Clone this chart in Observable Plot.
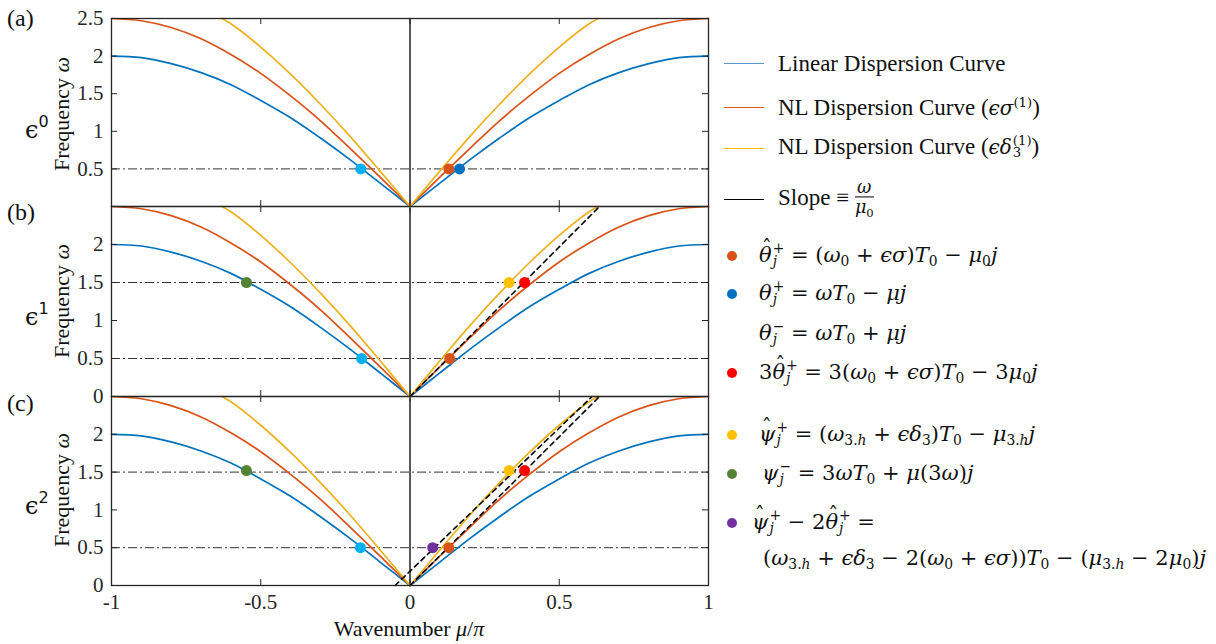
<!DOCTYPE html>
<html><head><meta charset="utf-8">
<script src="https://cdn.jsdelivr.net/npm/d3@7"></script>
<script src="https://cdn.jsdelivr.net/npm/@observablehq/plot@0.6"></script>
<style>
body{margin:0;background:#fff;}
#root{position:relative;width:1216px;height:644px;overflow:hidden;background:#fff;font-family:"Liberation Serif","Times New Roman","DejaVu Serif",serif;color:#111;}
.abs{position:absolute;white-space:nowrap;line-height:1;}
.panel{position:absolute;left:0;}
.ss{display:inline-flex;flex-direction:column;vertical-align:middle;font-size:0.66em;line-height:0.95;margin-left:1px;position:relative;top:-0.08em;}
.sb{font-size:0.66em;vertical-align:-0.3em;}
.sp{font-size:0.66em;vertical-align:0.55em;}
.frac{display:inline-flex;flex-direction:column;align-items:center;vertical-align:middle;font-size:0.8em;line-height:1.05;}
.frac .den{border-top:1.5px solid #000;padding-top:1px;}
.hat{position:relative;display:inline-block;}
.hat .hm{position:absolute;left:0.14em;top:-0.28em;font-style:normal;font-size:0.95em;}
.math{font-family:"DejaVu Serif",serif;font-size:21px;}
.math i{font-style:italic;}
</style></head><body><div id="root"></div><script>
// ---------- data ----------
const muLeft  = [-1,-0.9,-0.8,-0.7,-0.6,-0.5,-0.4,-0.3,-0.2,-0.1,0];
const muRight = [0,0.1,0.2,0.3,0.4,0.5,0.6,0.7,0.8,0.9,1];
const linearLeft  = [2.0,1.98,1.90,1.78,1.62,1.41,1.18,0.91,0.62,0.31,0];
const linearRight = [0,0.31,0.62,0.91,1.18,1.41,1.62,1.78,1.90,1.98,2.0];
const sigmaLeft  = [2.5,2.47,2.38,2.23,2.02,1.77,1.47,1.14,0.77,0.39,0];
const sigmaRight = [0,0.39,0.77,1.14,1.47,1.77,2.02,2.23,2.38,2.47,2.5];
const deltaMuLeft  = [-0.63,-0.6,-0.5,-0.4,-0.3,-0.2,-0.1,0];
const deltaMuRight = [0,0.1,0.2,0.3,0.4,0.5,0.6,0.63];
const deltaLeft  = [2.5,2.43,2.12,1.76,1.36,0.93,0.47,0];
const deltaRight = [0,0.47,0.93,1.36,1.76,2.12,2.43,2.5];

const markerPanel = ["a","a","a","b","b","b","b","b","c","c","c","c","c","c"];
const markerKind  = ["thetaMinus","thetaHat","thetaPlus","psiMinus","thetaMinus","thetaHat","psiHat","threeTheta","psiMinus","thetaMinus","combo","thetaHat","psiHat","threeTheta"];
const markerMu    = [-0.165,0.13,0.166,-0.548,-0.162,0.133,0.332,0.384,-0.548,-0.166,0.076,0.13,0.332,0.384];
const markerOmega = [0.5,0.5,0.5,1.5,0.5,0.5,1.5,1.5,1.52,0.5,0.5,0.5,1.52,1.52];

const slopePanel = ["b","b","c","c","c","c"];
const slopeId    = ["s1","s1","s1","s1","s2","s2"];
const slopeMu    = [0,0.635,0,0.635,-0.05,0.61];
const slopeOmega = [0,2.5,0,2.5,0,2.5];

const hlinePanel = ["a","b","b","c","c"];
const hlineOmega = [0.5,0.5,1.5,0.5,1.5];

const yTicksA = [0.5,1,1.5,2,2.5];
const yTicksB = [0,0.5,1,1.5,2];
const yTicksC = [0,0.5,1,1.5,2];
const xTicks  = [-1,-0.5,0,0.5,1];

const kinds = ["thetaHat","thetaPlus","thetaMinus","threeTheta","psiHat","psiMinus","combo"];
const kindColors = ["#D95319","#0070C0","#00B0F0","#FF0000","#FFC000","#548235","#7030A0"];

// ---------- tables ----------
const curves = [];
const addSeries = (name, side, xs, ys) => xs.forEach((x,i)=>curves.push({name, side, x, y: ys[i]}));
addSeries("linear","L",muLeft,linearLeft);
addSeries("linear","R",muRight,linearRight);
addSeries("sigma","L",muLeft,sigmaLeft);
addSeries("sigma","R",muRight,sigmaRight);
addSeries("delta","L",deltaMuLeft,deltaLeft);
addSeries("delta","R",deltaMuRight,deltaRight);
const markers = markerPanel.map((p,i)=>({panel:p, kind:markerKind[i], x:markerMu[i], y:markerOmega[i]}));
const slopes = slopePanel.map((p,i)=>({panel:p, id:slopeId[i], x:slopeMu[i], y:slopeOmega[i]}));
const hlines = hlinePanel.map((p,i)=>({panel:p, y:hlineOmega[i]}));

const curveColor = {linear:"#0072BD", sigma:"#D95319", delta:"#EDB120"};

const root = document.getElementById("root");
const W = 720, ML = 111, MR = 12, MT = 18;
const plotW = W - ML - MR;
const panels = [
  {key:"c", top:378, inner:189, yTicks:yTicksC, xAxis:true,  mb:42},
  {key:"b", top:188, inner:190, yTicks:yTicksB, xAxis:false, mb:14},
  {key:"a", top:0,   inner:188, yTicks:yTicksA, xAxis:false, mb:14},
];
for (const p of panels) {
  const marks = [
    Plot.ruleY(hlines.filter(d=>d.panel===p.key), {y:"y", stroke:"#333", strokeWidth:1, strokeDasharray:"9,3,2,3"}),
    Plot.ruleX([0], {stroke:"#000", strokeWidth:1.3}),
    ...["linear","sigma","delta"].map(n => Plot.line(curves.filter(d=>d.name===n), {x:"x", y:"y", z:"side", stroke:curveColor[n], strokeWidth:1.7, curve:"catmull-rom"})),
    Plot.line(slopes.filter(d=>d.panel===p.key), {x:"x", y:"y", z:"id", stroke:"#000", strokeWidth:1.6, strokeDasharray:"5,4"}),
    Plot.dot(markers.filter(d=>d.panel===p.key), {x:"x", y:"y", fill:"kind", r:5.5}),
    Plot.tickY(p.yTicks, {y:d=>d, insetRight:plotW-6, stroke:"#262626"}),
    Plot.tickY(p.yTicks, {y:d=>d, insetLeft:plotW-6, stroke:"#262626"}),
    Plot.tickX(xTicks, {x:d=>d, insetBottom:p.inner-6, stroke:"#262626"}),
    Plot.tickX(xTicks, {x:d=>d, insetTop:p.inner-6, stroke:"#262626"}),
    Plot.frame({stroke:"#262626", strokeWidth:1.3}),
    Plot.axisY({ticks:p.yTicks, tickSize:0, tickPadding:8, label:null, tickFormat:d=>String(d), fontFamily:"Liberation Serif", fontSize:21}),
  ];
  if (p.xAxis) marks.push(Plot.axisX({ticks:xTicks, tickSize:0, tickPadding:9, label:null, tickFormat:d=>String(d), fontFamily:"Liberation Serif", fontSize:21}));
  const chart = Plot.plot({
    width:W, height:MT+p.inner+p.mb,
    marginLeft:ML, marginRight:MR, marginTop:MT, marginBottom:p.mb,
    x:{domain:[-1,1], axis:null},
    y:{domain:[0,2.5], axis:null},
    color:{domain:kinds, range:kindColors},
    style:{background:"transparent", fontFamily:"Liberation Serif, Times New Roman, serif", fontSize:"21px", color:"#262626", overflow:"visible"},
    marks
  });
  chart.classList.add("panel");
  chart.style.top = p.top + "px";
  root.appendChild(chart);
}

// ---------- panel texts ----------
const I = s => `<i>${s}</i>`;
const sb = s => `<span class="sb">${s}</span>`;
const sp = s => `<span class="sp">${s}</span>`;
const ss = (sup, sub) => `<span class="ss"><span>${sup}</span><span>${sub}</span></span>`;
const frac = (n, d) => `<span class="frac"><span>${n}</span><span class="den">${d}</span></span>`;
const hat = s => `<span class="hat"><i>${s}</i><span class="hm">ˆ</span></span>`;

function addText(html, x, y, style = "", anchor = "translate(0,-50%)", cls = "") {
  const el = document.createElement("div");
  el.className = "abs " + cls;
  el.innerHTML = html;
  el.style.left = x + "px"; el.style.top = y + "px";
  el.style.transform = anchor;
  el.setAttribute("style", el.getAttribute("style") + ";" + style);
  root.appendChild(el);
  return el;
}
const panelLetters = ["(a)","(b)","(c)"];
const epsLabels = ["0","1","2"];
const panelCenters = [114, 301, 490];
const panelTops = [18, 212, 403];
panelLetters.forEach((t,i)=>{
  addText(t, 7, panelTops[i], "font-size:24px;");
  addText(`<span style="font-family:'DejaVu Serif';font-size:24px">ϵ</span><span style="font-family:'DejaVu Sans';font-size:16px;vertical-align:0.65em">${epsLabels[i]}</span>`, 25, panelCenters[i]+14, "");
  addText(`Frequency ${I("ω")}`, 62, panelCenters[i], "font-size:22px;", "translate(-50%,-50%) rotate(-90deg)");
});
addText(`Wavenumber ${I("μ")}/${I("π")}`, 409, 629, "font-size:22px;", "translate(-50%,-50%)");

// ---------- legend ----------
const legendLineColors = ["#5B9BD5","#D95319","#FFC000","#000000"];
const legendLineLabels = [
  "Linear Dispersion Curve",
  `NL Dispersion Curve (<span class="math" style="font-size:20px">${I("ϵσ")}${sp("(1)")}</span>)`,
  `NL Dispersion Curve (<span class="math" style="font-size:20px">${I("ϵδ")}${ss("(1)","3")}</span>)`,
  `Slope ≡ <span class="math" style="font-size:22px">${frac(I("ω"), I("μ")+sb("0"))}</span>`
];
const legendLineY = [63, 107, 148, 199];
legendLineLabels.forEach((t,i)=>{
  const sw = document.createElement("div");
  sw.className = "abs";
  sw.setAttribute("style", `left:724px;top:${legendLineY[i]}px;width:40px;border-top:1.6px solid ${legendLineColors[i]};`);
  root.appendChild(sw);
  addText(t, 778, legendLineY[i], "font-size:23px;");
});
const jp = ss("+", I("j")), jm = ss("−", I("j"));
const legendDotKinds = ["thetaHat","thetaPlus",null,"threeTheta","psiHat","psiMinus","combo",null];
const legendDotLabels = [
  `${hat("θ")}${jp} = (${I("ω")}${sb("0")} + ${I("ϵσ")})${I("T")}${sb("0")} − ${I("μ")}${sb("0")}${I("j")}`,
  `${I("θ")}${jp} = ${I("ωT")}${sb("0")} − ${I("μj")}`,
  `${I("θ")}${jm} = ${I("ωT")}${sb("0")} + ${I("μj")}`,
  `3${hat("θ")}${jp} = 3(${I("ω")}${sb("0")} + ${I("ϵσ")})${I("T")}${sb("0")} − 3${I("μ")}${sb("0")}${I("j")}`,
  `${hat("ψ")}${jp} = (${I("ω")}${sb("3."+I("h"))} + ${I("ϵδ")}${sb("3")})${I("T")}${sb("0")} − ${I("μ")}${sb("3."+I("h"))}${I("j")}`,
  `${I("ψ")}${jm} = 3${I("ωT")}${sb("0")} + ${I("μ")}(3${I("ω")})${I("j")}`,
  `${hat("ψ")}${jp} − 2${hat("θ")}${jp} =`,
  `(${I("ω")}${sb("3."+I("h"))} + ${I("ϵδ")}${sb("3")} − 2(${I("ω")}${sb("0")} + ${I("ϵσ")}))${I("T")}${sb("0")} − (${I("μ")}${sb("3."+I("h"))} − 2${I("μ")}${sb("0")})${I("j")}`
];
const legendDotY = [256, 294, 334, 373, 435, 474, 523, 560];
const legendTextX = [759, 759, 759, 759, 759, 762, 752, 763];
legendDotLabels.forEach((t,i)=>{
  const k = legendDotKinds[i];
  if (k) {
    const d = document.createElement("div");
    d.className = "abs";
    d.setAttribute("style", `left:727px;top:${legendDotY[i]-5}px;width:10px;height:10px;border-radius:50%;background:${kindColors[kinds.indexOf(k)]};`);
    root.appendChild(d);
  }
  addText(t, legendTextX[i], legendDotY[i], "", "translate(0,-50%)", "math");
});
</script></body></html>
